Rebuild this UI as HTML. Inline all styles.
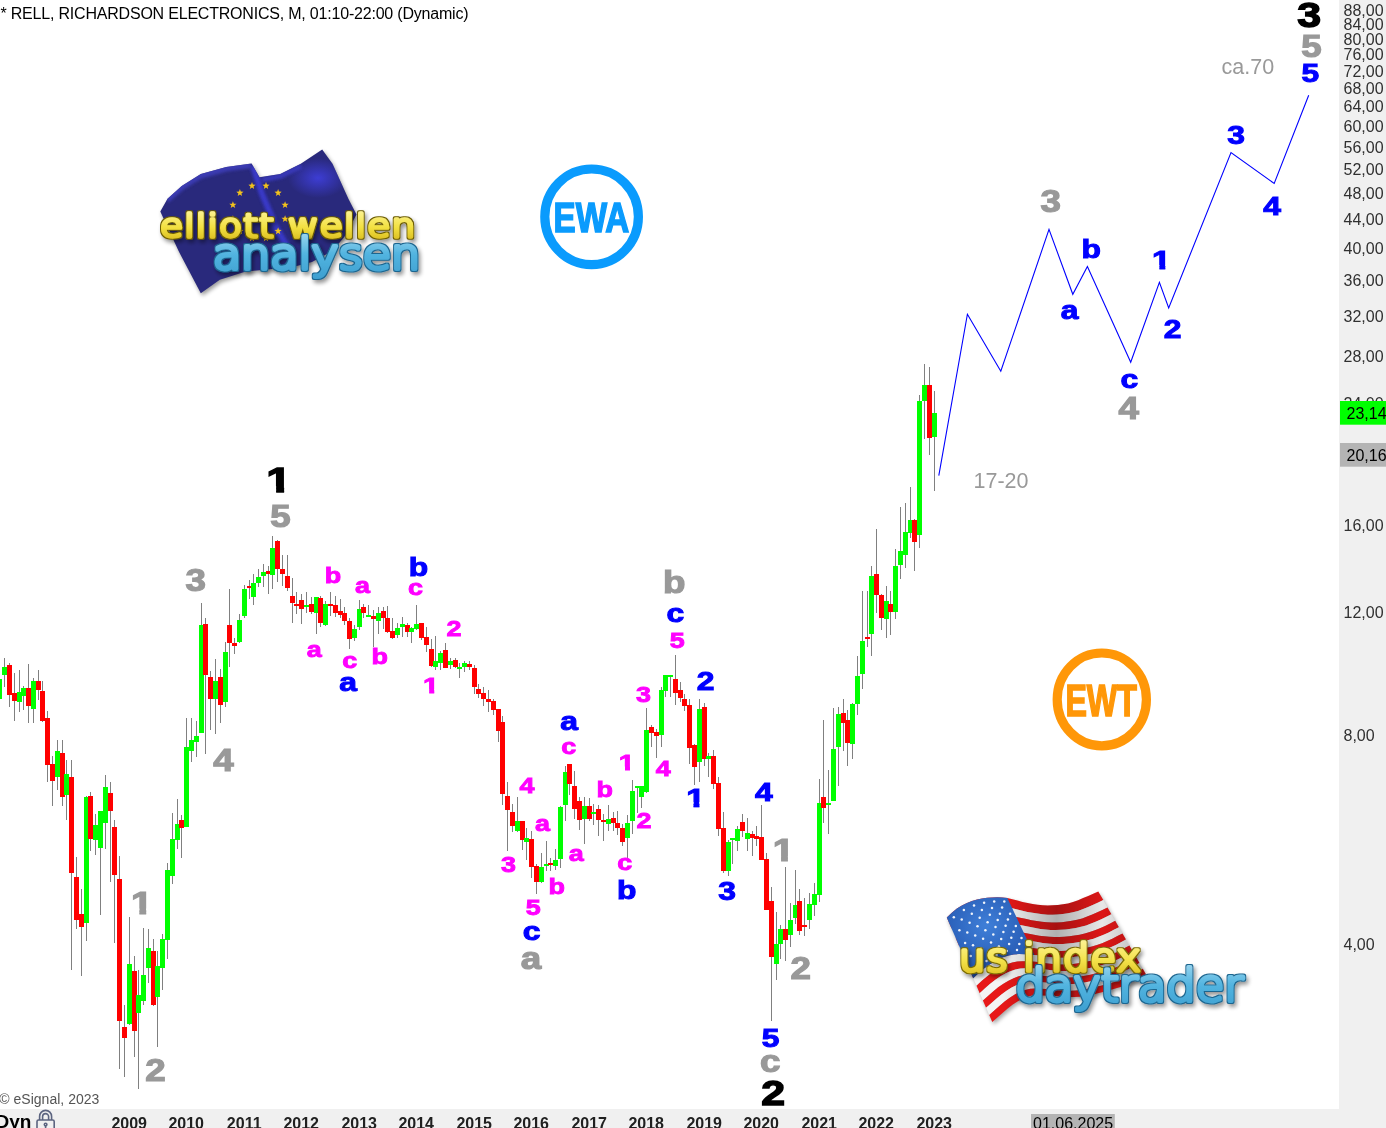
<!DOCTYPE html>
<html lang="de"><head><meta charset="utf-8"><title>RELL, RICHARDSON ELECTRONICS</title>
<style>
html,body{margin:0;padding:0;background:#fff}
body{width:1386px;height:1128px;overflow:hidden;position:relative}
svg{position:absolute;left:0;top:0;display:block}
text{font-family:"Liberation Sans",sans-serif}
.ax{font-size:16px;fill:#303030}
.yr{font-size:16px;font-weight:bold;fill:#202020;text-anchor:middle}
.wl{font-weight:bold;text-anchor:middle;stroke-linejoin:miter}
.nt{font-size:21.5px;fill:#999999}
text.lg{font-family:"DejaVu Sans","Liberation Sans",sans-serif;font-weight:200}
</style></head>
<body>
<svg width="1386" height="1128" viewBox="0 0 1386 1128">
<rect x="0" y="0" width="1386" height="1128" fill="#ffffff"/>
<rect x="1339" y="0" width="47" height="1128" fill="#f0f0f0"/>
<rect x="0" y="1109" width="1386" height="19" fill="#f0f0f0"/>
<g id="eulogo">
<defs><linearGradient id="euY" x1="0" y1="0" x2="0" y2="1"><stop offset="0" stop-color="#fff6a0"/><stop offset="0.55" stop-color="#f2e040"/><stop offset="1" stop-color="#d4b418"/></linearGradient><linearGradient id="euB" x1="0" y1="0" x2="0" y2="1"><stop offset="0" stop-color="#a8dcf2"/><stop offset="0.5" stop-color="#52b4e0"/><stop offset="1" stop-color="#3d9fd0"/></linearGradient><radialGradient id="euHi" cx="0.5" cy="0.5" r="0.5"><stop offset="0" stop-color="#3e3ed8" stop-opacity="0.95"/><stop offset="1" stop-color="#3e3ed8" stop-opacity="0"/></radialGradient><filter id="euBlur" x="-20%" y="-20%" width="140%" height="140%"><feGaussianBlur stdDeviation="2.2"/></filter><filter id="euBlur2" x="-20%" y="-20%" width="140%" height="140%"><feGaussianBlur stdDeviation="1.6"/></filter><clipPath id="euClip"><path id="euFlagP" d="M160.3 211.4 L167.5 198.7 L181.7 186 L200.8 174.1 L226.2 167 L251.6 163.5 L259.5 177.3 L280.2 174.1 L300.8 163.8 L322.2 149.5 L332.5 163.8 L348.4 198.7 L356.5 214.6 L345 236 L332.5 251 L312 262 L292.9 267 L262 270 L245 271.7 L219.8 279.7 L200.8 293.2 L178.6 251.1 Z"/></clipPath></defs>
<path d="M160.3 211.4 L167.5 198.7 L181.7 186 L200.8 174.1 L226.2 167 L251.6 163.5 L259.5 177.3 L280.2 174.1 L300.8 163.8 L322.2 149.5 L332.5 163.8 L348.4 198.7 L356.5 214.6 L345 236 L332.5 251 L312 262 L292.9 267 L262 270 L245 271.7 L219.8 279.7 L200.8 293.2 L178.6 251.1 Z" fill="#000" opacity="0.4" filter="url(#euBlur)" transform="translate(1.5,2.5)"/>
<path d="M160.3 211.4 L167.5 198.7 L181.7 186 L200.8 174.1 L226.2 167 L251.6 163.5 L259.5 177.3 L280.2 174.1 L300.8 163.8 L322.2 149.5 L332.5 163.8 L348.4 198.7 L356.5 214.6 L345 236 L332.5 251 L312 262 L292.9 267 L262 270 L245 271.7 L219.8 279.7 L200.8 293.2 L178.6 251.1 Z" fill="#29297c"/>
<g clip-path="url(#euClip)">
<ellipse cx="318" cy="178" rx="30" ry="20" fill="url(#euHi)"/>
<path d="M167 200 L182 187 L201 175.5 L226 168.5 L251 165" fill="none" stroke="#4040c0" stroke-width="6" opacity="0.8" filter="url(#euBlur2)"/>
<path d="M253 166 L262 194 L277 229 L287 246" fill="none" stroke="#3a3ad0" stroke-width="6" opacity="0.9" filter="url(#euBlur2)"/>
<path d="M262 180 L281 176 L301 166" fill="none" stroke="#3c3cc8" stroke-width="5" opacity="0.8" filter="url(#euBlur2)"/>
</g>
<g fill="#f2c21c"><polygon points="266.0,182.1 266.9,184.6 269.6,184.7 267.5,186.4 268.2,189.0 266.0,187.5 263.8,189.0 264.5,186.4 262.4,184.7 265.1,184.6"/><polygon points="278.1,189.1 279.0,191.6 281.7,191.7 279.6,193.4 280.3,196.0 278.1,194.5 275.9,196.0 276.6,193.4 274.5,191.7 277.2,191.6"/><polygon points="285.1,201.2 286.0,203.7 288.7,203.8 286.6,205.5 287.3,208.1 285.1,206.6 282.8,208.1 283.6,205.5 281.5,203.8 284.1,203.7"/><polygon points="285.1,215.2 286.0,217.7 288.7,217.8 286.6,219.5 287.3,222.1 285.1,220.6 282.8,222.1 283.6,219.5 281.5,217.8 284.1,217.7"/><polygon points="278.1,227.3 279.0,229.8 281.7,229.9 279.6,231.6 280.3,234.2 278.1,232.7 275.9,234.2 276.6,231.6 274.5,229.9 277.2,229.8"/><polygon points="266.0,234.3 266.9,236.8 269.6,236.9 267.5,238.6 268.2,241.2 266.0,239.7 263.8,241.2 264.5,238.6 262.4,236.9 265.1,236.8"/><polygon points="252.0,234.3 252.9,236.8 255.6,236.9 253.5,238.6 254.2,241.2 252.0,239.7 249.8,241.2 250.5,238.6 248.4,236.9 251.1,236.8"/><polygon points="239.9,227.3 240.8,229.8 243.5,229.9 241.4,231.6 242.1,234.2 239.9,232.7 237.7,234.2 238.4,231.6 236.3,229.9 239.0,229.8"/><polygon points="232.9,215.2 233.9,217.7 236.5,217.8 234.4,219.5 235.2,222.1 232.9,220.6 230.7,222.1 231.4,219.5 229.3,217.8 232.0,217.7"/><polygon points="232.9,201.2 233.9,203.7 236.5,203.8 234.4,205.5 235.2,208.1 232.9,206.6 230.7,208.1 231.4,205.5 229.3,203.8 232.0,203.7"/><polygon points="239.9,189.1 240.8,191.6 243.5,191.7 241.4,193.4 242.1,196.0 239.9,194.5 237.7,196.0 238.4,193.4 236.3,191.7 239.0,191.6"/><polygon points="252.0,182.1 252.9,184.6 255.6,184.7 253.5,186.4 254.2,189.0 252.0,187.5 249.8,189.0 250.5,186.4 248.4,184.7 251.1,184.6"/></g>
<defs><filter id="lgFeuY" x="-10%" y="-40%" width="120%" height="190%"><feMorphology in="SourceAlpha" operator="dilate" radius="1.05" result="d"/><feFlood flood-color="#6e5e05"/><feComposite in2="d" operator="in" result="ol"/><feGaussianBlur in="d" stdDeviation="2"/><feOffset dx="1.5" dy="2.5"/><feComponentTransfer result="sh"><feFuncA type="linear" slope="0.42"/></feComponentTransfer><feMerge><feMergeNode in="sh"/><feMergeNode in="ol"/><feMergeNode in="SourceGraphic"/></feMerge></filter></defs><text class="lg" x="160" y="236.8" font-size="31.5" letter-spacing="1" textLength="256.4" lengthAdjust="spacingAndGlyphs" stroke-linejoin="round" stroke-linecap="round" fill="url(#euY)" stroke="url(#euY)" stroke-width="3.3" filter="url(#lgFeuY)">elliott wellen</text>
<defs><filter id="lgFeuB" x="-10%" y="-40%" width="120%" height="190%"><feMorphology in="SourceAlpha" operator="dilate" radius="1.10" result="d"/><feFlood flood-color="#1c6690"/><feComposite in2="d" operator="in" result="ol"/><feGaussianBlur in="d" stdDeviation="2"/><feOffset dx="1.5" dy="2.5"/><feComponentTransfer result="sh"><feFuncA type="linear" slope="0.42"/></feComponentTransfer><feMerge><feMergeNode in="sh"/><feMergeNode in="ol"/><feMergeNode in="SourceGraphic"/></feMerge></filter></defs><text class="lg" x="212.9" y="269" font-size="43" letter-spacing="0" textLength="207.3" lengthAdjust="spacingAndGlyphs" stroke-linejoin="round" stroke-linecap="round" fill="url(#euB)" stroke="url(#euB)" stroke-width="4.0" filter="url(#lgFeuB)">analysen</text>
</g>
<g id="ewa"><ellipse cx="591.6" cy="216.8" rx="46.8" ry="47.8" fill="none" stroke="#0a9bfd" stroke-width="9.2"/><text x="553.6" y="232.3" font-size="43" font-weight="bold" fill="#0a9bfd" stroke="#0a9bfd" stroke-width="1.6" textLength="75.6" lengthAdjust="spacingAndGlyphs">EWA</text></g>
<g id="ewt"><ellipse cx="1101.8" cy="699.4" rx="44.6" ry="46.4" fill="none" stroke="#ff9708" stroke-width="9.2"/><text x="1065.4" y="715.5" font-size="43.8" font-weight="bold" fill="#ff9708" stroke="#ff9708" stroke-width="1.6" textLength="71.5" lengthAdjust="spacingAndGlyphs">EWT</text></g>
<g id="uslogo">
<defs><linearGradient id="usSh" x1="0" y1="0" x2="1" y2="0"><stop offset="0" stop-color="#000" stop-opacity="0"/><stop offset="0.28" stop-color="#000" stop-opacity="0"/><stop offset="0.55" stop-color="#000" stop-opacity="0.28"/><stop offset="0.78" stop-color="#000" stop-opacity="0.05"/><stop offset="1" stop-color="#000" stop-opacity="0.25"/></linearGradient><linearGradient id="usY" x1="0" y1="0" x2="0" y2="1"><stop offset="0" stop-color="#fff6a0"/><stop offset="0.55" stop-color="#f4e24a"/><stop offset="1" stop-color="#d9b91a"/></linearGradient><linearGradient id="usB" x1="0" y1="0" x2="0" y2="1"><stop offset="0" stop-color="#a8dcf2"/><stop offset="0.5" stop-color="#52b4e0"/><stop offset="1" stop-color="#3d9fd0"/></linearGradient><radialGradient id="usC" cx="0.45" cy="0.35" r="0.7"><stop offset="0" stop-color="#3f7fd8"/><stop offset="1" stop-color="#1f4fa8"/></radialGradient><filter id="usBlur" x="-20%" y="-20%" width="140%" height="140%"><feGaussianBlur stdDeviation="2.2"/></filter></defs>
<polygon points="946.8,917.6 951.8,912.8 956.9,908.6 961.9,905.6 967.0,903.1 972.0,901.1 977.1,899.6 982.1,898.5 987.2,897.8 992.2,897.4 997.3,897.2 1002.3,897.4 1007.4,898.0 1012.4,899.2 1017.5,900.6 1022.5,901.9 1027.6,903.0 1032.6,903.9 1037.7,904.8 1042.8,905.3 1047.8,905.5 1052.8,905.3 1057.9,904.9 1063.0,904.2 1068.0,903.4 1073.0,902.1 1078.1,900.2 1083.1,898.1 1088.2,896.0 1093.2,893.7 1098.3,891.4 1103.1,899.7 1107.8,908.0 1112.6,916.3 1117.4,924.6 1122.2,932.9 1126.9,941.2 1131.7,949.5 1136.5,957.8 1141.2,966.1 1146.0,974.4 1140.9,977.4 1135.8,980.4 1130.6,982.9 1125.5,985.1 1120.4,986.9 1115.3,988.6 1110.1,990.1 1105.0,991.4 1099.9,992.7 1094.8,993.9 1089.6,995.0 1084.5,996.0 1079.4,996.7 1074.3,997.1 1069.2,997.1 1064.0,996.9 1058.9,996.5 1053.8,996.1 1048.7,995.7 1043.5,995.5 1038.4,995.2 1033.3,995.3 1028.2,996.6 1023.0,998.6 1017.9,1001.3 1012.8,1004.6 1007.7,1008.6 1002.5,1013.0 997.4,1017.5 992.3,1022.1 987.7,1011.6 983.2,1001.2 978.6,990.8 974.1,980.3 969.5,969.9 965.0,959.4 960.4,948.9 955.9,938.5 951.4,928.1" fill="#000" opacity="0.35" filter="url(#usBlur)" transform="translate(1.5,2.5)"/>
<polygon points="946.8,917.6 951.8,912.8 956.9,908.6 961.9,905.6 967.0,903.1 972.0,901.1 977.1,899.6 982.1,898.5 987.2,897.8 992.2,897.4 997.3,897.2 1002.3,897.4 1007.4,898.0 1012.4,899.2 1017.5,900.6 1022.5,901.9 1027.6,903.0 1032.6,903.9 1037.7,904.8 1042.8,905.3 1047.8,905.5 1052.8,905.3 1057.9,904.9 1063.0,904.2 1068.0,903.4 1073.0,902.1 1078.1,900.2 1083.1,898.1 1088.2,896.0 1093.2,893.7 1098.3,891.4 1103.3,900.1 1098.2,902.5 1093.2,904.8 1088.1,907.0 1083.1,909.1 1078.0,910.9 1072.9,912.3 1067.9,913.2 1062.8,914.0 1057.8,914.5 1052.7,914.8 1047.7,914.7 1042.6,914.3 1037.5,913.6 1032.5,912.8 1027.4,911.9 1022.4,910.7 1017.3,909.4 1012.3,908.3 1007.2,907.7 1002.1,907.5 997.1,907.6 992.0,908.0 987.0,908.7 981.9,909.9 976.8,911.6 971.8,913.8 966.7,916.3 961.7,919.5 956.6,923.7 951.6,928.5" fill="#e81818"/>
<polygon points="951.6,928.5 956.6,923.7 961.7,919.5 966.7,916.3 971.8,913.8 976.8,911.6 981.9,909.9 987.0,908.7 992.0,908.0 997.1,907.6 1002.1,907.5 1007.2,907.7 1012.3,908.3 1017.3,909.4 1022.4,910.7 1027.4,911.9 1032.5,912.8 1037.5,913.6 1042.6,914.3 1047.7,914.7 1052.7,914.8 1057.8,914.5 1062.8,914.0 1067.9,913.2 1072.9,912.3 1078.0,910.9 1083.1,909.1 1088.1,907.0 1093.2,904.8 1098.2,902.5 1103.3,900.1 1107.5,907.4 1102.4,909.9 1097.4,912.2 1092.3,914.4 1087.2,916.6 1082.2,918.4 1077.1,919.8 1072.0,920.8 1067.0,921.6 1061.9,922.2 1056.8,922.5 1051.8,922.6 1046.7,922.3 1041.7,921.8 1036.6,921.1 1031.5,920.3 1026.5,919.1 1021.4,917.9 1016.3,916.9 1011.3,916.3 1006.2,916.1 1001.1,916.2 996.1,916.6 991.0,917.4 985.9,918.6 980.9,920.4 975.8,922.7 970.8,925.4 965.7,928.7 960.6,932.9 955.6,937.7" fill="#f4f4f4"/>
<polygon points="955.6,937.7 960.6,932.9 965.7,928.7 970.8,925.4 975.8,922.7 980.9,920.4 985.9,918.6 991.0,917.4 996.1,916.6 1001.1,916.2 1006.2,916.1 1011.3,916.3 1016.3,916.9 1021.4,917.9 1026.5,919.1 1031.5,920.3 1036.6,921.1 1041.7,921.8 1046.7,922.3 1051.8,922.6 1056.8,922.5 1061.9,922.2 1067.0,921.6 1072.0,920.8 1077.1,919.8 1082.2,918.4 1087.2,916.6 1092.3,914.4 1097.4,912.2 1102.4,909.9 1107.5,907.4 1111.4,914.2 1106.4,916.8 1101.3,919.2 1096.2,921.4 1091.1,923.6 1086.1,925.4 1081.0,926.8 1075.9,927.9 1070.9,928.7 1065.8,929.4 1060.7,929.8 1055.7,930.0 1050.6,929.9 1045.5,929.5 1040.4,928.9 1035.4,928.1 1030.3,927.1 1025.2,926.0 1020.2,925.0 1015.1,924.4 1010.0,924.2 1005.0,924.3 999.9,924.6 994.8,925.5 989.7,926.8 984.7,928.7 979.6,931.1 974.5,933.9 969.5,937.3 964.4,941.6 959.3,946.4" fill="#e81818"/>
<polygon points="959.3,946.4 964.4,941.6 969.5,937.3 974.5,933.9 979.6,931.1 984.7,928.7 989.7,926.8 994.8,925.5 999.9,924.6 1005.0,924.3 1010.0,924.2 1015.1,924.4 1020.2,925.0 1025.2,926.0 1030.3,927.1 1035.4,928.1 1040.4,928.9 1045.5,929.5 1050.6,929.9 1055.7,930.0 1060.7,929.8 1065.8,929.4 1070.9,928.7 1075.9,927.9 1081.0,926.8 1086.1,925.4 1091.1,923.6 1096.2,921.4 1101.3,919.2 1106.4,916.8 1111.4,914.2 1115.2,920.8 1110.1,923.4 1105.1,925.9 1100.0,928.2 1094.9,930.3 1089.8,932.1 1084.8,933.6 1079.7,934.7 1074.6,935.6 1069.5,936.3 1064.4,936.8 1059.4,937.1 1054.3,937.1 1049.2,936.8 1044.1,936.3 1039.1,935.7 1034.0,934.7 1028.9,933.7 1023.8,932.8 1018.8,932.2 1013.7,932.0 1008.6,932.0 1003.5,932.4 998.5,933.2 993.4,934.7 988.3,936.6 983.2,939.1 978.2,942.1 973.1,945.6 968.0,949.9 962.9,954.6" fill="#f4f4f4"/>
<polygon points="962.9,954.6 968.0,949.9 973.1,945.6 978.2,942.1 983.2,939.1 988.3,936.6 993.4,934.7 998.5,933.2 1003.5,932.4 1008.6,932.0 1013.7,932.0 1018.8,932.2 1023.8,932.8 1028.9,933.7 1034.0,934.7 1039.1,935.7 1044.1,936.3 1049.2,936.8 1054.3,937.1 1059.4,937.1 1064.4,936.8 1069.5,936.3 1074.6,935.6 1079.7,934.7 1084.8,933.6 1089.8,932.1 1094.9,930.3 1100.0,928.2 1105.1,925.9 1110.1,923.4 1115.2,920.8 1118.9,927.2 1113.8,929.8 1108.7,932.4 1103.6,934.7 1098.5,936.8 1093.5,938.7 1088.4,940.1 1083.3,941.3 1078.2,942.2 1073.1,943.0 1068.1,943.6 1063.0,944.0 1057.9,944.1 1052.8,943.9 1047.7,943.6 1042.7,943.0 1037.6,942.1 1032.5,941.2 1027.4,940.3 1022.3,939.8 1017.2,939.6 1012.2,939.6 1007.1,939.9 1002.0,940.8 996.9,942.3 991.8,944.4 986.8,946.9 981.7,950.0 976.6,953.6 971.5,958.0 966.4,962.7" fill="#e81818"/>
<polygon points="966.4,962.7 971.5,958.0 976.6,953.6 981.7,950.0 986.8,946.9 991.8,944.4 996.9,942.3 1002.0,940.8 1007.1,939.9 1012.2,939.6 1017.2,939.6 1022.3,939.8 1027.4,940.3 1032.5,941.2 1037.6,942.1 1042.7,943.0 1047.7,943.6 1052.8,943.9 1057.9,944.1 1063.0,944.0 1068.1,943.6 1073.1,943.0 1078.2,942.2 1083.3,941.3 1088.4,940.1 1093.5,938.7 1098.5,936.8 1103.6,934.7 1108.7,932.4 1113.8,929.8 1118.9,927.2 1122.5,933.4 1117.4,936.1 1112.3,938.7 1107.2,941.1 1102.1,943.2 1097.0,945.0 1091.9,946.5 1086.8,947.7 1081.8,948.7 1076.7,949.6 1071.6,950.3 1066.5,950.8 1061.4,951.0 1056.3,950.9 1051.2,950.6 1046.1,950.1 1041.1,949.4 1036.0,948.5 1030.9,947.7 1025.8,947.2 1020.7,947.0 1015.6,946.9 1010.5,947.2 1005.5,948.2 1000.4,949.7 995.3,951.9 990.2,954.5 985.1,957.7 980.0,961.4 974.9,965.8 969.8,970.5" fill="#f4f4f4"/>
<polygon points="969.8,970.5 974.9,965.8 980.0,961.4 985.1,957.7 990.2,954.5 995.3,951.9 1000.4,949.7 1005.5,948.2 1010.5,947.2 1015.6,946.9 1020.7,947.0 1025.8,947.2 1030.9,947.7 1036.0,948.5 1041.1,949.4 1046.1,950.1 1051.2,950.6 1056.3,950.9 1061.4,951.0 1066.5,950.8 1071.6,950.3 1076.7,949.6 1081.8,948.7 1086.8,947.7 1091.9,946.5 1097.0,945.0 1102.1,943.2 1107.2,941.1 1112.3,938.7 1117.4,936.1 1122.5,933.4 1126.0,939.5 1120.9,942.3 1115.8,944.9 1110.7,947.3 1105.6,949.4 1100.5,951.3 1095.4,952.8 1090.3,954.0 1085.2,955.1 1080.1,956.0 1075.0,956.8 1069.9,957.4 1064.9,957.7 1059.8,957.7 1054.7,957.6 1049.6,957.1 1044.5,956.5 1039.4,955.6 1034.3,954.9 1029.2,954.4 1024.1,954.2 1019.0,954.1 1013.9,954.4 1008.8,955.4 1003.7,957.0 998.7,959.3 993.6,962.0 988.5,965.3 983.4,969.1 978.3,973.5 973.2,978.2" fill="#e81818"/>
<polygon points="973.2,978.2 978.3,973.5 983.4,969.1 988.5,965.3 993.6,962.0 998.7,959.3 1003.7,957.0 1008.8,955.4 1013.9,954.4 1019.0,954.1 1024.1,954.2 1029.2,954.4 1034.3,954.9 1039.4,955.6 1044.5,956.5 1049.6,957.1 1054.7,957.6 1059.8,957.7 1064.9,957.7 1069.9,957.4 1075.0,956.8 1080.1,956.0 1085.2,955.1 1090.3,954.0 1095.4,952.8 1100.5,951.3 1105.6,949.4 1110.7,947.3 1115.8,944.9 1120.9,942.3 1126.0,939.5 1129.4,945.5 1124.3,948.3 1119.2,951.0 1114.1,953.4 1109.0,955.6 1103.9,957.4 1098.8,959.0 1093.7,960.2 1088.6,961.3 1083.5,962.3 1078.4,963.2 1073.3,963.9 1068.2,964.3 1063.1,964.4 1058.0,964.4 1052.9,964.0 1047.8,963.4 1042.8,962.7 1037.7,962.0 1032.6,961.5 1027.5,961.3 1022.4,961.2 1017.3,961.4 1012.2,962.5 1007.1,964.2 1002.0,966.5 996.9,969.3 991.8,972.8 986.7,976.7 981.6,981.1 976.5,985.8" fill="#f4f4f4"/>
<polygon points="976.5,985.8 981.6,981.1 986.7,976.7 991.8,972.8 996.9,969.3 1002.0,966.5 1007.1,964.2 1012.2,962.5 1017.3,961.4 1022.4,961.2 1027.5,961.3 1032.6,961.5 1037.7,962.0 1042.8,962.7 1047.8,963.4 1052.9,964.0 1058.0,964.4 1063.1,964.4 1068.2,964.3 1073.3,963.9 1078.4,963.2 1083.5,962.3 1088.6,961.3 1093.7,960.2 1098.8,959.0 1103.9,957.4 1109.0,955.6 1114.1,953.4 1119.2,951.0 1124.3,948.3 1129.4,945.5 1132.8,951.5 1127.7,954.3 1122.6,957.0 1117.5,959.5 1112.4,961.6 1107.3,963.5 1102.2,965.0 1097.1,966.4 1092.0,967.5 1086.9,968.6 1081.8,969.5 1076.7,970.2 1071.6,970.8 1066.5,971.1 1061.4,971.1 1056.3,970.8 1051.2,970.3 1046.1,969.6 1041.0,969.0 1035.9,968.5 1030.8,968.3 1025.6,968.2 1020.5,968.4 1015.4,969.4 1010.3,971.2 1005.2,973.6 1000.1,976.6 995.0,980.1 989.9,984.1 984.8,988.6 979.7,993.2" fill="#e81818"/>
<polygon points="979.7,993.2 984.8,988.6 989.9,984.1 995.0,980.1 1000.1,976.6 1005.2,973.6 1010.3,971.2 1015.4,969.4 1020.5,968.4 1025.6,968.2 1030.8,968.3 1035.9,968.5 1041.0,969.0 1046.1,969.6 1051.2,970.3 1056.3,970.8 1061.4,971.1 1066.5,971.1 1071.6,970.8 1076.7,970.2 1081.8,969.5 1086.9,968.6 1092.0,967.5 1097.1,966.4 1102.2,965.0 1107.3,963.5 1112.4,961.6 1117.5,959.5 1122.6,957.0 1127.7,954.3 1132.8,951.5 1136.2,957.3 1131.1,960.2 1125.9,963.0 1120.8,965.4 1115.7,967.6 1110.6,969.4 1105.5,971.0 1100.4,972.4 1095.3,973.6 1090.2,974.7 1085.1,975.7 1080.0,976.5 1074.9,977.2 1069.8,977.6 1064.7,977.7 1059.5,977.5 1054.4,977.1 1049.3,976.5 1044.2,975.9 1039.1,975.4 1034.0,975.2 1028.9,975.0 1023.8,975.2 1018.7,976.3 1013.6,978.2 1008.5,980.7 1003.4,983.7 998.2,987.3 993.1,991.4 988.0,995.9 982.9,1000.6" fill="#f4f4f4"/>
<polygon points="982.9,1000.6 988.0,995.9 993.1,991.4 998.2,987.3 1003.4,983.7 1008.5,980.7 1013.6,978.2 1018.7,976.3 1023.8,975.2 1028.9,975.0 1034.0,975.2 1039.1,975.4 1044.2,975.9 1049.3,976.5 1054.4,977.1 1059.5,977.5 1064.7,977.7 1069.8,977.6 1074.9,977.2 1080.0,976.5 1085.1,975.7 1090.2,974.7 1095.3,973.6 1100.4,972.4 1105.5,971.0 1110.6,969.4 1115.7,967.6 1120.8,965.4 1125.9,963.0 1131.1,960.2 1136.2,957.3 1139.5,963.1 1134.4,966.0 1129.3,968.8 1124.1,971.3 1119.0,973.5 1113.9,975.3 1108.8,976.9 1103.7,978.4 1098.6,979.6 1093.5,980.8 1088.3,981.8 1083.2,982.8 1078.1,983.5 1073.0,984.0 1067.9,984.2 1062.8,984.1 1057.7,983.7 1052.6,983.2 1047.4,982.7 1042.3,982.3 1037.2,982.1 1032.1,981.8 1027.0,982.0 1021.9,983.1 1016.8,985.1 1011.6,987.6 1006.5,990.8 1001.4,994.5 996.3,998.7 991.2,1003.2 986.1,1007.8" fill="#e81818"/>
<polygon points="986.1,1007.8 991.2,1003.2 996.3,998.7 1001.4,994.5 1006.5,990.8 1011.6,987.6 1016.8,985.1 1021.9,983.1 1027.0,982.0 1032.1,981.8 1037.2,982.1 1042.3,982.3 1047.4,982.7 1052.6,983.2 1057.7,983.7 1062.8,984.1 1067.9,984.2 1073.0,984.0 1078.1,983.5 1083.2,982.8 1088.3,981.8 1093.5,980.8 1098.6,979.6 1103.7,978.4 1108.8,976.9 1113.9,975.3 1119.0,973.5 1124.1,971.3 1129.3,968.8 1134.4,966.0 1139.5,963.1 1142.8,968.8 1137.6,971.7 1132.5,974.6 1127.4,977.2 1122.3,979.3 1117.2,981.2 1112.0,982.8 1106.9,984.3 1101.8,985.5 1096.7,986.8 1091.6,987.9 1086.5,988.9 1081.3,989.8 1076.2,990.4 1071.1,990.7 1066.0,990.7 1060.9,990.4 1055.7,989.9 1050.6,989.4 1045.5,989.0 1040.4,988.8 1035.3,988.6 1030.2,988.7 1025.0,989.9 1019.9,991.9 1014.8,994.5 1009.7,997.7 1004.6,1001.6 999.4,1005.9 994.3,1010.4 989.2,1015.0" fill="#f4f4f4"/>
<polygon points="989.2,1015.0 994.3,1010.4 999.4,1005.9 1004.6,1001.6 1009.7,997.7 1014.8,994.5 1019.9,991.9 1025.0,989.9 1030.2,988.7 1035.3,988.6 1040.4,988.8 1045.5,989.0 1050.6,989.4 1055.7,989.9 1060.9,990.4 1066.0,990.7 1071.1,990.7 1076.2,990.4 1081.3,989.8 1086.5,988.9 1091.6,987.9 1096.7,986.8 1101.8,985.5 1106.9,984.3 1112.0,982.8 1117.2,981.2 1122.3,979.3 1127.4,977.2 1132.5,974.6 1137.6,971.7 1142.8,968.8 1146.0,974.4 1140.9,977.4 1135.8,980.4 1130.6,982.9 1125.5,985.1 1120.4,986.9 1115.3,988.6 1110.1,990.1 1105.0,991.4 1099.9,992.7 1094.8,993.9 1089.6,995.0 1084.5,996.0 1079.4,996.7 1074.3,997.1 1069.2,997.1 1064.0,996.9 1058.9,996.5 1053.8,996.1 1048.7,995.7 1043.5,995.5 1038.4,995.2 1033.3,995.3 1028.2,996.6 1023.0,998.6 1017.9,1001.3 1012.8,1004.6 1007.7,1008.6 1002.5,1013.0 997.4,1017.5 992.3,1022.1" fill="#e81818"/>
<polygon points="946.8,917.6 951.8,912.8 956.9,908.6 961.9,905.6 967.0,903.1 972.0,901.1 977.1,899.6 982.1,898.5 987.2,897.8 992.2,897.4 997.3,897.2 1002.3,897.4 1007.4,898.0 1012.4,899.2 1017.5,900.6 1022.5,901.9 1027.6,903.0 1032.6,903.9 1037.7,904.8 1042.8,905.3 1047.8,905.5 1052.8,905.3 1057.9,904.9 1063.0,904.2 1068.0,903.4 1073.0,902.1 1078.1,900.2 1083.1,898.1 1088.2,896.0 1093.2,893.7 1098.3,891.4 1103.1,899.7 1107.8,908.0 1112.6,916.3 1117.4,924.6 1122.2,932.9 1126.9,941.2 1131.7,949.5 1136.5,957.8 1141.2,966.1 1146.0,974.4 1140.9,977.4 1135.8,980.4 1130.6,982.9 1125.5,985.1 1120.4,986.9 1115.3,988.6 1110.1,990.1 1105.0,991.4 1099.9,992.7 1094.8,993.9 1089.6,995.0 1084.5,996.0 1079.4,996.7 1074.3,997.1 1069.2,997.1 1064.0,996.9 1058.9,996.5 1053.8,996.1 1048.7,995.7 1043.5,995.5 1038.4,995.2 1033.3,995.3 1028.2,996.6 1023.0,998.6 1017.9,1001.3 1012.8,1004.6 1007.7,1008.6 1002.5,1013.0 997.4,1017.5 992.3,1022.1 987.7,1011.6 983.2,1001.2 978.6,990.8 974.1,980.3 969.5,969.9 965.0,959.4 960.4,948.9 955.9,938.5 951.4,928.1" fill="url(#usSh)"/>
<polygon points="946.8,917.6 951.8,912.8 956.9,908.6 961.9,905.6 967.0,903.1 972.0,901.1 977.1,899.6 982.1,898.5 987.2,897.8 992.2,897.4 997.3,897.2 1002.3,897.4 1007.4,898.0 1009.6,902.8 1011.9,907.5 1014.1,912.2 1016.4,917.0 1018.6,921.7 1020.8,926.5 1023.1,931.2 1025.3,935.9 1027.6,940.7 1029.8,945.4 1032.1,950.2 1034.3,954.9 1029.2,954.4 1024.1,954.2 1019.0,954.1 1013.9,954.4 1008.8,955.4 1003.7,957.0 998.7,959.3 993.6,962.0 988.5,965.3 983.4,969.1 978.3,973.5 973.2,978.2 971.0,973.2 968.8,968.1 966.6,963.1 964.4,958.0 962.2,953.0 960.0,947.9 957.8,942.9 955.6,937.8 953.4,932.8 951.2,927.7 949.0,922.7" fill="url(#usC)"/>
<g fill="#ffffff" opacity="0.92"><circle cx="953.8" cy="917.3" r="1.25"/><circle cx="963.9" cy="910.0" r="1.25"/><circle cx="974.0" cy="905.5" r="1.25"/><circle cx="984.1" cy="902.7" r="1.25"/><circle cx="994.2" cy="901.6" r="1.25"/><circle cx="1004.3" cy="901.6" r="1.25"/><circle cx="961.7" cy="919.5" r="1.25"/><circle cx="971.8" cy="913.8" r="1.25"/><circle cx="981.9" cy="909.9" r="1.25"/><circle cx="992.0" cy="908.0" r="1.25"/><circle cx="1002.1" cy="907.5" r="1.25"/><circle cx="959.4" cy="930.2" r="1.25"/><circle cx="969.6" cy="922.7" r="1.25"/><circle cx="979.7" cy="917.8" r="1.25"/><circle cx="989.8" cy="914.8" r="1.25"/><circle cx="999.9" cy="913.7" r="1.25"/><circle cx="1010.1" cy="913.8" r="1.25"/><circle cx="967.3" cy="932.4" r="1.25"/><circle cx="977.5" cy="926.3" r="1.25"/><circle cx="987.6" cy="922.2" r="1.25"/><circle cx="997.7" cy="920.1" r="1.25"/><circle cx="1007.9" cy="919.6" r="1.25"/><circle cx="965.1" cy="943.1" r="1.25"/><circle cx="975.2" cy="935.4" r="1.25"/><circle cx="985.4" cy="930.2" r="1.25"/><circle cx="995.5" cy="926.9" r="1.25"/><circle cx="1005.6" cy="925.7" r="1.25"/><circle cx="1015.8" cy="925.9" r="1.25"/><circle cx="973.0" cy="945.3" r="1.25"/><circle cx="983.1" cy="938.8" r="1.25"/><circle cx="993.3" cy="934.4" r="1.25"/><circle cx="1003.4" cy="932.1" r="1.25"/><circle cx="1013.6" cy="931.8" r="1.25"/><circle cx="970.7" cy="956.1" r="1.25"/><circle cx="980.9" cy="948.2" r="1.25"/><circle cx="991.0" cy="942.6" r="1.25"/><circle cx="1001.2" cy="939.0" r="1.25"/><circle cx="1011.3" cy="937.8" r="1.25"/><circle cx="1021.5" cy="938.0" r="1.25"/><circle cx="978.6" cy="958.2" r="1.25"/><circle cx="988.8" cy="951.4" r="1.25"/><circle cx="998.9" cy="946.6" r="1.25"/><circle cx="1009.1" cy="944.1" r="1.25"/><circle cx="1019.3" cy="943.9" r="1.25"/><circle cx="976.3" cy="969.0" r="1.25"/><circle cx="986.5" cy="960.9" r="1.25"/><circle cx="996.7" cy="954.9" r="1.25"/><circle cx="1006.8" cy="951.1" r="1.25"/><circle cx="1017.0" cy="949.9" r="1.25"/><circle cx="1027.2" cy="950.2" r="1.25"/></g>
<defs><filter id="lgFusY" x="-10%" y="-40%" width="120%" height="190%"><feMorphology in="SourceAlpha" operator="dilate" radius="1.10" result="d"/><feFlood flood-color="#7d6d06"/><feComposite in2="d" operator="in" result="ol"/><feGaussianBlur in="d" stdDeviation="2"/><feOffset dx="1.5" dy="2.5"/><feComponentTransfer result="sh"><feFuncA type="linear" slope="0.42"/></feComponentTransfer><feMerge><feMergeNode in="sh"/><feMergeNode in="ol"/><feMergeNode in="SourceGraphic"/></feMerge></filter></defs><text class="lg" x="959" y="970.8" font-size="37" letter-spacing="1" textLength="182.8" lengthAdjust="spacingAndGlyphs" stroke-linejoin="round" stroke-linecap="round" fill="url(#usY)" stroke="url(#usY)" stroke-width="3.6" filter="url(#lgFusY)">us index</text>
<defs><filter id="lgFusB" x="-10%" y="-40%" width="120%" height="190%"><feMorphology in="SourceAlpha" operator="dilate" radius="1.10" result="d"/><feFlood flood-color="#1c6690"/><feComposite in2="d" operator="in" result="ol"/><feGaussianBlur in="d" stdDeviation="2"/><feOffset dx="1.5" dy="2.5"/><feComponentTransfer result="sh"><feFuncA type="linear" slope="0.42"/></feComponentTransfer><feMerge><feMergeNode in="sh"/><feMergeNode in="ol"/><feMergeNode in="SourceGraphic"/></feMerge></filter></defs><text class="lg" x="1015.4" y="1000.6" font-size="45" letter-spacing="0" textLength="228" lengthAdjust="spacingAndGlyphs" stroke-linejoin="round" stroke-linecap="round" fill="url(#usB)" stroke="url(#usB)" stroke-width="3.8" filter="url(#lgFusB)">daytrader</text>
</g>
<g shape-rendering="crispEdges">
<rect x="-1" y="670" width="1" height="35" fill="#808080"/><rect x="-3" y="679" width="5" height="20" fill="#00ff00"/>
<rect x="4" y="658" width="1" height="29" fill="#808080"/><rect x="2" y="667" width="5" height="8" fill="#00ff00"/>
<rect x="9" y="663" width="1" height="44" fill="#808080"/><rect x="7" y="665" width="5" height="30" fill="#ff0000"/>
<rect x="14" y="673" width="1" height="48" fill="#808080"/><rect x="12" y="693" width="5" height="8" fill="#ff0000"/>
<rect x="19" y="670" width="1" height="42" fill="#808080"/><rect x="17" y="692" width="5" height="10" fill="#00ff00"/>
<rect x="23" y="686" width="1" height="24" fill="#808080"/><rect x="21" y="688" width="5" height="8" fill="#00ff00"/>
<rect x="28" y="664" width="1" height="59" fill="#808080"/><rect x="26" y="688" width="5" height="18" fill="#ff0000"/>
<rect x="33" y="678" width="1" height="45" fill="#808080"/><rect x="31" y="681" width="5" height="28" fill="#00ff00"/>
<rect x="38" y="670" width="1" height="30" fill="#808080"/><rect x="36" y="681" width="5" height="9" fill="#ff0000"/>
<rect x="42" y="681" width="1" height="41" fill="#808080"/><rect x="40" y="691" width="5" height="30" fill="#ff0000"/>
<rect x="47" y="711" width="1" height="71" fill="#808080"/><rect x="45" y="718" width="5" height="47" fill="#ff0000"/>
<rect x="52" y="756" width="1" height="50" fill="#808080"/><rect x="50" y="764" width="5" height="17" fill="#ff0000"/>
<rect x="57" y="740" width="1" height="50" fill="#808080"/><rect x="55" y="751" width="5" height="26" fill="#00ff00"/>
<rect x="62" y="740" width="1" height="66" fill="#808080"/><rect x="60" y="753" width="5" height="44" fill="#ff0000"/>
<rect x="66" y="760" width="1" height="60" fill="#808080"/><rect x="64" y="774" width="5" height="21" fill="#00ff00"/>
<rect x="71" y="760" width="1" height="210" fill="#808080"/><rect x="69" y="777" width="5" height="96" fill="#ff0000"/>
<rect x="76" y="857" width="1" height="72" fill="#808080"/><rect x="74" y="877" width="5" height="43" fill="#ff0000"/>
<rect x="81" y="889" width="1" height="87" fill="#808080"/><rect x="79" y="914" width="5" height="13" fill="#ff0000"/>
<rect x="86" y="796" width="1" height="145" fill="#808080"/><rect x="84" y="797" width="5" height="126" fill="#00ff00"/>
<rect x="90" y="792" width="1" height="59" fill="#808080"/><rect x="88" y="796" width="5" height="43" fill="#ff0000"/>
<rect x="95" y="814" width="1" height="41" fill="#808080"/><rect x="93" y="825" width="5" height="15" fill="#00ff00"/>
<rect x="100" y="811" width="1" height="104" fill="#808080"/><rect x="98" y="811" width="5" height="37" fill="#00ff00"/>
<rect x="105" y="775" width="1" height="74" fill="#808080"/><rect x="103" y="787" width="5" height="36" fill="#00ff00"/>
<rect x="110" y="782" width="1" height="100" fill="#808080"/><rect x="108" y="793" width="5" height="18" fill="#ff0000"/>
<rect x="114" y="820" width="1" height="123" fill="#808080"/><rect x="112" y="827" width="5" height="48" fill="#ff0000"/>
<rect x="119" y="856" width="1" height="213" fill="#808080"/><rect x="117" y="879" width="5" height="142" fill="#ff0000"/>
<rect x="124" y="1005" width="1" height="72" fill="#808080"/><rect x="122" y="1027" width="5" height="11" fill="#ff0000"/>
<rect x="129" y="917" width="1" height="108" fill="#808080"/><rect x="127" y="964" width="5" height="60" fill="#00ff00"/>
<rect x="134" y="956" width="1" height="101" fill="#808080"/><rect x="132" y="971" width="5" height="60" fill="#ff0000"/>
<rect x="138" y="970" width="1" height="119" fill="#808080"/><rect x="136" y="995" width="5" height="18" fill="#00ff00"/>
<rect x="143" y="928" width="1" height="77" fill="#808080"/><rect x="141" y="975" width="5" height="26" fill="#00ff00"/>
<rect x="148" y="929" width="1" height="54" fill="#808080"/><rect x="146" y="948" width="5" height="20" fill="#00ff00"/>
<rect x="153" y="939" width="1" height="67" fill="#808080"/><rect x="151" y="951" width="5" height="54" fill="#ff0000"/>
<rect x="157" y="951" width="1" height="96" fill="#808080"/><rect x="155" y="966" width="5" height="31" fill="#00ff00"/>
<rect x="162" y="934" width="1" height="56" fill="#808080"/><rect x="160" y="939" width="5" height="29" fill="#00ff00"/>
<rect x="167" y="863" width="1" height="96" fill="#808080"/><rect x="165" y="870" width="5" height="70" fill="#00ff00"/>
<rect x="172" y="813" width="1" height="71" fill="#808080"/><rect x="170" y="839" width="5" height="37" fill="#00ff00"/>
<rect x="177" y="799" width="1" height="50" fill="#808080"/><rect x="175" y="824" width="5" height="16" fill="#00ff00"/>
<rect x="181" y="815" width="1" height="43" fill="#808080"/><rect x="179" y="820" width="5" height="8" fill="#ff0000"/>
<rect x="186" y="718" width="1" height="109" fill="#808080"/><rect x="184" y="747" width="5" height="80" fill="#00ff00"/>
<rect x="191" y="718" width="1" height="44" fill="#808080"/><rect x="189" y="740" width="5" height="11" fill="#00ff00"/>
<rect x="196" y="721" width="1" height="36" fill="#808080"/><rect x="194" y="736" width="5" height="6" fill="#00ff00"/>
<rect x="201" y="603" width="1" height="130" fill="#808080"/><rect x="199" y="625" width="5" height="108" fill="#00ff00"/>
<rect x="205" y="618" width="1" height="136" fill="#808080"/><rect x="203" y="624" width="5" height="51" fill="#ff0000"/>
<rect x="210" y="671" width="1" height="59" fill="#808080"/><rect x="208" y="677" width="5" height="22" fill="#ff0000"/>
<rect x="215" y="659" width="1" height="75" fill="#808080"/><rect x="213" y="681" width="5" height="18" fill="#00ff00"/>
<rect x="220" y="669" width="1" height="54" fill="#808080"/><rect x="218" y="677" width="5" height="28" fill="#ff0000"/>
<rect x="225" y="642" width="1" height="65" fill="#808080"/><rect x="223" y="652" width="5" height="50" fill="#00ff00"/>
<rect x="229" y="589" width="1" height="78" fill="#808080"/><rect x="227" y="625" width="5" height="18" fill="#ff0000"/>
<rect x="234" y="638" width="1" height="16" fill="#808080"/><rect x="232" y="643" width="5" height="3" fill="#ff0000"/>
<rect x="239" y="614" width="1" height="29" fill="#808080"/><rect x="237" y="620" width="5" height="22" fill="#00ff00"/>
<rect x="244" y="585" width="1" height="33" fill="#808080"/><rect x="242" y="589" width="5" height="27" fill="#00ff00"/>
<rect x="249" y="580" width="1" height="19" fill="#808080"/><rect x="247" y="586" width="5" height="2" fill="#ff0000"/>
<rect x="253" y="574" width="1" height="31" fill="#808080"/><rect x="251" y="583" width="5" height="14" fill="#00ff00"/>
<rect x="258" y="569" width="1" height="18" fill="#808080"/><rect x="256" y="577" width="5" height="6" fill="#00ff00"/>
<rect x="263" y="564" width="1" height="23" fill="#808080"/><rect x="261" y="572" width="5" height="4" fill="#00ff00"/>
<rect x="268" y="566" width="1" height="28" fill="#808080"/><rect x="266" y="571" width="5" height="3" fill="#ff0000"/>
<rect x="272" y="536" width="1" height="53" fill="#808080"/><rect x="270" y="548" width="5" height="27" fill="#00ff00"/>
<rect x="277" y="540" width="1" height="42" fill="#808080"/><rect x="275" y="541" width="5" height="28" fill="#ff0000"/>
<rect x="282" y="555" width="1" height="31" fill="#808080"/><rect x="280" y="569" width="5" height="5" fill="#ff0000"/>
<rect x="287" y="555" width="1" height="36" fill="#808080"/><rect x="285" y="576" width="5" height="12" fill="#ff0000"/>
<rect x="292" y="578" width="1" height="45" fill="#808080"/><rect x="290" y="596" width="5" height="7" fill="#ff0000"/>
<rect x="296" y="592" width="1" height="22" fill="#808080"/><rect x="294" y="604" width="5" height="2" fill="#ff0000"/>
<rect x="301" y="594" width="1" height="30" fill="#808080"/><rect x="299" y="600" width="5" height="9" fill="#ff0000"/>
<rect x="306" y="592" width="1" height="21" fill="#808080"/><rect x="304" y="605" width="5" height="2" fill="#00ff00"/>
<rect x="311" y="597" width="1" height="17" fill="#808080"/><rect x="309" y="604" width="5" height="8" fill="#ff0000"/>
<rect x="316" y="597" width="1" height="37" fill="#808080"/><rect x="314" y="597" width="5" height="16" fill="#00ff00"/>
<rect x="320" y="596" width="1" height="31" fill="#808080"/><rect x="318" y="598" width="5" height="25" fill="#ff0000"/>
<rect x="325" y="601" width="1" height="25" fill="#808080"/><rect x="323" y="604" width="5" height="21" fill="#00ff00"/>
<rect x="330" y="592" width="1" height="24" fill="#808080"/><rect x="328" y="604" width="5" height="2" fill="#ff0000"/>
<rect x="335" y="596" width="1" height="21" fill="#808080"/><rect x="333" y="605" width="5" height="8" fill="#ff0000"/>
<rect x="340" y="599" width="1" height="19" fill="#808080"/><rect x="338" y="611" width="5" height="4" fill="#ff0000"/>
<rect x="344" y="607" width="1" height="18" fill="#808080"/><rect x="342" y="613" width="5" height="8" fill="#ff0000"/>
<rect x="349" y="618" width="1" height="31" fill="#808080"/><rect x="347" y="621" width="5" height="18" fill="#ff0000"/>
<rect x="354" y="625" width="1" height="16" fill="#808080"/><rect x="352" y="629" width="5" height="9" fill="#00ff00"/>
<rect x="359" y="600" width="1" height="30" fill="#808080"/><rect x="357" y="609" width="5" height="18" fill="#00ff00"/>
<rect x="363" y="604" width="1" height="14" fill="#808080"/><rect x="361" y="607" width="5" height="6" fill="#ff0000"/>
<rect x="368" y="605" width="1" height="12" fill="#808080"/><rect x="366" y="615" width="5" height="2" fill="#00ff00"/>
<rect x="373" y="610" width="1" height="37" fill="#808080"/><rect x="371" y="616" width="5" height="3" fill="#ff0000"/>
<rect x="378" y="607" width="1" height="27" fill="#808080"/><rect x="376" y="613" width="5" height="8" fill="#00ff00"/>
<rect x="383" y="607" width="1" height="22" fill="#808080"/><rect x="381" y="611" width="5" height="7" fill="#ff0000"/>
<rect x="387" y="606" width="1" height="27" fill="#808080"/><rect x="385" y="618" width="5" height="14" fill="#ff0000"/>
<rect x="392" y="618" width="1" height="21" fill="#808080"/><rect x="390" y="631" width="5" height="7" fill="#ff0000"/>
<rect x="397" y="623" width="1" height="15" fill="#808080"/><rect x="395" y="628" width="5" height="7" fill="#00ff00"/>
<rect x="402" y="617" width="1" height="20" fill="#808080"/><rect x="400" y="624" width="5" height="3" fill="#00ff00"/>
<rect x="407" y="623" width="1" height="14" fill="#808080"/><rect x="405" y="625" width="5" height="7" fill="#ff0000"/>
<rect x="411" y="627" width="1" height="16" fill="#808080"/><rect x="409" y="628" width="5" height="4" fill="#00ff00"/>
<rect x="416" y="605" width="1" height="25" fill="#808080"/><rect x="414" y="624" width="5" height="5" fill="#00ff00"/>
<rect x="421" y="623" width="1" height="17" fill="#808080"/><rect x="419" y="623" width="5" height="15" fill="#ff0000"/>
<rect x="426" y="627" width="1" height="25" fill="#808080"/><rect x="424" y="637" width="5" height="8" fill="#ff0000"/>
<rect x="431" y="639" width="1" height="28" fill="#808080"/><rect x="429" y="649" width="5" height="17" fill="#ff0000"/>
<rect x="435" y="636" width="1" height="34" fill="#808080"/><rect x="433" y="661" width="5" height="6" fill="#00ff00"/>
<rect x="440" y="651" width="1" height="19" fill="#808080"/><rect x="438" y="653" width="5" height="10" fill="#00ff00"/>
<rect x="445" y="643" width="1" height="25" fill="#808080"/><rect x="443" y="650" width="5" height="18" fill="#ff0000"/>
<rect x="450" y="658" width="1" height="11" fill="#808080"/><rect x="448" y="661" width="5" height="4" fill="#00ff00"/>
<rect x="455" y="658" width="1" height="10" fill="#808080"/><rect x="453" y="660" width="5" height="7" fill="#ff0000"/>
<rect x="459" y="663" width="1" height="15" fill="#808080"/><rect x="457" y="667" width="5" height="2" fill="#00ff00"/>
<rect x="464" y="661" width="1" height="11" fill="#808080"/><rect x="462" y="663" width="5" height="4" fill="#00ff00"/>
<rect x="469" y="661" width="1" height="9" fill="#808080"/><rect x="467" y="664" width="5" height="3" fill="#ff0000"/>
<rect x="474" y="665" width="1" height="29" fill="#808080"/><rect x="472" y="668" width="5" height="19" fill="#ff0000"/>
<rect x="478" y="684" width="1" height="14" fill="#808080"/><rect x="476" y="689" width="5" height="5" fill="#ff0000"/>
<rect x="483" y="687" width="1" height="19" fill="#808080"/><rect x="481" y="693" width="5" height="6" fill="#ff0000"/>
<rect x="488" y="690" width="1" height="22" fill="#808080"/><rect x="486" y="699" width="5" height="3" fill="#ff0000"/>
<rect x="493" y="699" width="1" height="16" fill="#808080"/><rect x="491" y="701" width="5" height="9" fill="#ff0000"/>
<rect x="498" y="709" width="1" height="33" fill="#808080"/><rect x="496" y="709" width="5" height="22" fill="#ff0000"/>
<rect x="502" y="716" width="1" height="89" fill="#808080"/><rect x="500" y="722" width="5" height="72" fill="#ff0000"/>
<rect x="507" y="782" width="1" height="69" fill="#808080"/><rect x="505" y="796" width="5" height="14" fill="#ff0000"/>
<rect x="512" y="804" width="1" height="28" fill="#808080"/><rect x="510" y="812" width="5" height="14" fill="#ff0000"/>
<rect x="517" y="797" width="1" height="35" fill="#808080"/><rect x="515" y="821" width="5" height="10" fill="#00ff00"/>
<rect x="522" y="821" width="1" height="29" fill="#808080"/><rect x="520" y="821" width="5" height="19" fill="#ff0000"/>
<rect x="526" y="828" width="1" height="32" fill="#808080"/><rect x="524" y="838" width="5" height="4" fill="#00ff00"/>
<rect x="531" y="831" width="1" height="47" fill="#808080"/><rect x="529" y="839" width="5" height="28" fill="#ff0000"/>
<rect x="536" y="864" width="1" height="30" fill="#808080"/><rect x="534" y="866" width="5" height="16" fill="#ff0000"/>
<rect x="541" y="853" width="1" height="30" fill="#808080"/><rect x="539" y="867" width="5" height="15" fill="#00ff00"/>
<rect x="546" y="841" width="1" height="30" fill="#808080"/><rect x="544" y="864" width="5" height="2" fill="#00ff00"/>
<rect x="550" y="858" width="1" height="13" fill="#808080"/><rect x="548" y="863" width="5" height="2" fill="#ff0000"/>
<rect x="555" y="849" width="1" height="21" fill="#808080"/><rect x="553" y="860" width="5" height="6" fill="#00ff00"/>
<rect x="560" y="806" width="1" height="62" fill="#808080"/><rect x="558" y="807" width="5" height="52" fill="#00ff00"/>
<rect x="565" y="766" width="1" height="55" fill="#808080"/><rect x="563" y="772" width="5" height="33" fill="#00ff00"/>
<rect x="569" y="764" width="1" height="31" fill="#808080"/><rect x="567" y="764" width="5" height="20" fill="#ff0000"/>
<rect x="574" y="771" width="1" height="48" fill="#808080"/><rect x="572" y="786" width="5" height="23" fill="#ff0000"/>
<rect x="579" y="797" width="1" height="33" fill="#808080"/><rect x="577" y="801" width="5" height="19" fill="#ff0000"/>
<rect x="584" y="797" width="1" height="47" fill="#808080"/><rect x="582" y="806" width="5" height="13" fill="#00ff00"/>
<rect x="589" y="798" width="1" height="23" fill="#808080"/><rect x="587" y="806" width="5" height="13" fill="#ff0000"/>
<rect x="593" y="804" width="1" height="21" fill="#808080"/><rect x="591" y="812" width="5" height="2" fill="#00ff00"/>
<rect x="598" y="805" width="1" height="31" fill="#808080"/><rect x="596" y="809" width="5" height="11" fill="#ff0000"/>
<rect x="603" y="814" width="1" height="27" fill="#808080"/><rect x="601" y="820" width="5" height="2" fill="#ff0000"/>
<rect x="608" y="805" width="1" height="26" fill="#808080"/><rect x="606" y="819" width="5" height="5" fill="#00ff00"/>
<rect x="613" y="812" width="1" height="19" fill="#808080"/><rect x="611" y="818" width="5" height="5" fill="#ff0000"/>
<rect x="617" y="811" width="1" height="24" fill="#808080"/><rect x="615" y="823" width="5" height="5" fill="#ff0000"/>
<rect x="622" y="824" width="1" height="22" fill="#808080"/><rect x="620" y="828" width="5" height="14" fill="#ff0000"/>
<rect x="627" y="815" width="1" height="44" fill="#808080"/><rect x="625" y="823" width="5" height="15" fill="#00ff00"/>
<rect x="632" y="780" width="1" height="54" fill="#808080"/><rect x="630" y="791" width="5" height="30" fill="#00ff00"/>
<rect x="637" y="786" width="1" height="27" fill="#808080"/><rect x="635" y="786" width="5" height="2" fill="#00ff00"/>
<rect x="641" y="786" width="1" height="22" fill="#808080"/><rect x="639" y="786" width="5" height="11" fill="#00ff00"/>
<rect x="646" y="708" width="1" height="85" fill="#808080"/><rect x="644" y="730" width="5" height="62" fill="#00ff00"/>
<rect x="651" y="725" width="1" height="22" fill="#808080"/><rect x="649" y="727" width="5" height="6" fill="#ff0000"/>
<rect x="656" y="729" width="1" height="29" fill="#808080"/><rect x="654" y="732" width="5" height="4" fill="#ff0000"/>
<rect x="661" y="687" width="1" height="60" fill="#808080"/><rect x="659" y="690" width="5" height="45" fill="#00ff00"/>
<rect x="665" y="675" width="1" height="22" fill="#808080"/><rect x="663" y="675" width="5" height="16" fill="#00ff00"/>
<rect x="670" y="675" width="1" height="22" fill="#808080"/><rect x="668" y="675" width="5" height="2" fill="#00ff00"/>
<rect x="675" y="655" width="1" height="50" fill="#808080"/><rect x="673" y="679" width="5" height="14" fill="#ff0000"/>
<rect x="680" y="682" width="1" height="20" fill="#808080"/><rect x="678" y="690" width="5" height="8" fill="#ff0000"/>
<rect x="684" y="694" width="1" height="17" fill="#808080"/><rect x="682" y="699" width="5" height="7" fill="#ff0000"/>
<rect x="689" y="699" width="1" height="65" fill="#808080"/><rect x="687" y="705" width="5" height="43" fill="#ff0000"/>
<rect x="694" y="744" width="1" height="41" fill="#808080"/><rect x="692" y="745" width="5" height="22" fill="#ff0000"/>
<rect x="699" y="699" width="1" height="83" fill="#808080"/><rect x="697" y="709" width="5" height="53" fill="#00ff00"/>
<rect x="704" y="703" width="1" height="63" fill="#808080"/><rect x="702" y="707" width="5" height="52" fill="#ff0000"/>
<rect x="708" y="753" width="1" height="24" fill="#808080"/><rect x="706" y="756" width="5" height="3" fill="#00ff00"/>
<rect x="713" y="750" width="1" height="39" fill="#808080"/><rect x="711" y="756" width="5" height="28" fill="#ff0000"/>
<rect x="718" y="777" width="1" height="59" fill="#808080"/><rect x="716" y="783" width="5" height="46" fill="#ff0000"/>
<rect x="723" y="812" width="1" height="61" fill="#808080"/><rect x="721" y="828" width="5" height="43" fill="#ff0000"/>
<rect x="728" y="840" width="1" height="36" fill="#808080"/><rect x="726" y="842" width="5" height="29" fill="#00ff00"/>
<rect x="732" y="838" width="1" height="26" fill="#808080"/><rect x="730" y="838" width="5" height="2" fill="#00ff00"/>
<rect x="737" y="826" width="1" height="25" fill="#808080"/><rect x="735" y="829" width="5" height="12" fill="#00ff00"/>
<rect x="742" y="814" width="1" height="23" fill="#808080"/><rect x="740" y="822" width="5" height="9" fill="#ff0000"/>
<rect x="747" y="818" width="1" height="33" fill="#808080"/><rect x="745" y="833" width="5" height="6" fill="#00ff00"/>
<rect x="752" y="831" width="1" height="25" fill="#808080"/><rect x="750" y="834" width="5" height="4" fill="#ff0000"/>
<rect x="756" y="826" width="1" height="20" fill="#808080"/><rect x="754" y="836" width="5" height="3" fill="#ff0000"/>
<rect x="761" y="805" width="1" height="55" fill="#808080"/><rect x="759" y="837" width="5" height="23" fill="#ff0000"/>
<rect x="766" y="853" width="1" height="57" fill="#808080"/><rect x="764" y="859" width="5" height="51" fill="#ff0000"/>
<rect x="771" y="887" width="1" height="134" fill="#808080"/><rect x="769" y="901" width="5" height="56" fill="#ff0000"/>
<rect x="776" y="912" width="1" height="68" fill="#808080"/><rect x="774" y="944" width="5" height="20" fill="#00ff00"/>
<rect x="780" y="925" width="1" height="34" fill="#808080"/><rect x="778" y="929" width="5" height="15" fill="#00ff00"/>
<rect x="785" y="867" width="1" height="94" fill="#808080"/><rect x="783" y="929" width="5" height="11" fill="#ff0000"/>
<rect x="790" y="903" width="1" height="44" fill="#808080"/><rect x="788" y="920" width="5" height="15" fill="#00ff00"/>
<rect x="795" y="870" width="1" height="54" fill="#808080"/><rect x="793" y="905" width="5" height="13" fill="#00ff00"/>
<rect x="799" y="889" width="1" height="46" fill="#808080"/><rect x="797" y="901" width="5" height="30" fill="#ff0000"/>
<rect x="804" y="898" width="1" height="38" fill="#808080"/><rect x="802" y="925" width="5" height="2" fill="#ff0000"/>
<rect x="809" y="893" width="1" height="36" fill="#808080"/><rect x="807" y="904" width="5" height="16" fill="#00ff00"/>
<rect x="814" y="883" width="1" height="33" fill="#808080"/><rect x="812" y="894" width="5" height="11" fill="#00ff00"/>
<rect x="819" y="779" width="1" height="123" fill="#808080"/><rect x="817" y="803" width="5" height="92" fill="#00ff00"/>
<rect x="823" y="720" width="1" height="103" fill="#808080"/><rect x="821" y="797" width="5" height="11" fill="#ff0000"/>
<rect x="828" y="770" width="1" height="64" fill="#808080"/><rect x="826" y="803" width="5" height="2" fill="#00ff00"/>
<rect x="833" y="708" width="1" height="93" fill="#808080"/><rect x="831" y="749" width="5" height="52" fill="#00ff00"/>
<rect x="838" y="707" width="1" height="79" fill="#808080"/><rect x="836" y="714" width="5" height="33" fill="#00ff00"/>
<rect x="843" y="699" width="1" height="52" fill="#808080"/><rect x="841" y="713" width="5" height="10" fill="#ff0000"/>
<rect x="847" y="710" width="1" height="56" fill="#808080"/><rect x="845" y="720" width="5" height="23" fill="#ff0000"/>
<rect x="852" y="703" width="1" height="56" fill="#808080"/><rect x="850" y="704" width="5" height="40" fill="#00ff00"/>
<rect x="857" y="656" width="1" height="59" fill="#808080"/><rect x="855" y="676" width="5" height="28" fill="#00ff00"/>
<rect x="862" y="591" width="1" height="98" fill="#808080"/><rect x="860" y="641" width="5" height="33" fill="#00ff00"/>
<rect x="867" y="591" width="1" height="56" fill="#808080"/><rect x="865" y="637" width="5" height="2" fill="#ff0000"/>
<rect x="871" y="566" width="1" height="90" fill="#808080"/><rect x="869" y="576" width="5" height="58" fill="#00ff00"/>
<rect x="876" y="529" width="1" height="84" fill="#808080"/><rect x="874" y="574" width="5" height="21" fill="#ff0000"/>
<rect x="881" y="594" width="1" height="36" fill="#808080"/><rect x="879" y="595" width="5" height="23" fill="#ff0000"/>
<rect x="886" y="586" width="1" height="52" fill="#808080"/><rect x="884" y="601" width="5" height="18" fill="#00ff00"/>
<rect x="890" y="591" width="1" height="44" fill="#808080"/><rect x="888" y="604" width="5" height="8" fill="#ff0000"/>
<rect x="895" y="549" width="1" height="70" fill="#808080"/><rect x="893" y="566" width="5" height="46" fill="#00ff00"/>
<rect x="900" y="507" width="1" height="72" fill="#808080"/><rect x="898" y="551" width="5" height="14" fill="#00ff00"/>
<rect x="905" y="503" width="1" height="65" fill="#808080"/><rect x="903" y="532" width="5" height="23" fill="#00ff00"/>
<rect x="910" y="487" width="1" height="51" fill="#808080"/><rect x="908" y="520" width="5" height="13" fill="#00ff00"/>
<rect x="914" y="519" width="1" height="52" fill="#808080"/><rect x="912" y="520" width="5" height="22" fill="#ff0000"/>
<rect x="919" y="395" width="1" height="153" fill="#808080"/><rect x="917" y="401" width="5" height="134" fill="#00ff00"/>
<rect x="924" y="364" width="1" height="75" fill="#808080"/><rect x="922" y="385" width="5" height="16" fill="#00ff00"/>
<rect x="929" y="367" width="1" height="88" fill="#808080"/><rect x="927" y="385" width="5" height="53" fill="#ff0000"/>
<rect x="934" y="391" width="1" height="100" fill="#808080"/><rect x="932" y="413" width="5" height="24" fill="#00ff00"/>
</g>
<polyline fill="none" stroke="#0000ff" stroke-width="1.1" points="938.8,475.7 967.4,314.2 1000.8,371.3 1049,229.4 1072.8,294.3 1087.4,266.5 1130.7,362.2 1159.4,282.3 1168.7,308 1231,152.5 1274.2,183.5 1308.7,95.2"/>
<g class="ax">
<text x="1343.5" y="16.0">88,00</text><text x="1343.5" y="30.1">84,00</text><text x="1343.5" y="44.8">80,00</text><text x="1343.5" y="60.3">76,00</text><text x="1343.5" y="76.6">72,00</text><text x="1343.5" y="93.9">68,00</text><text x="1343.5" y="112.2">64,00</text><text x="1343.5" y="131.7">60,00</text><text x="1343.5" y="152.6">56,00</text><text x="1343.5" y="175.0">52,00</text><text x="1343.5" y="199.2">48,00</text><text x="1343.5" y="225.4">44,00</text><text x="1343.5" y="254.2">40,00</text><text x="1343.5" y="286.1">36,00</text><text x="1343.5" y="321.7">32,00</text><text x="1343.5" y="362.0">28,00</text><text x="1343.5" y="408.6">24,00</text><text x="1343.5" y="531.1">16,00</text><text x="1343.5" y="618.1">12,00</text><text x="1343.5" y="740.6">8,00</text><text x="1343.5" y="950.0">4,00</text>
</g>
<rect x="1340" y="401" width="46" height="23.7" fill="#00ff00"/><text x="1346.5" y="419" font-size="16" fill="#000">23,14</text>
<rect x="1340" y="443" width="46" height="23.7" fill="#b4b4b4"/><text x="1346.5" y="461" font-size="16" fill="#000">20,16</text>
<g class="yr">
<text x="129.2" y="1129">2009</text><text x="186.2" y="1129">2010</text><text x="244.2" y="1129">2011</text><text x="301.2" y="1129">2012</text><text x="359.2" y="1129">2013</text><text x="416.2" y="1129">2014</text><text x="474.2" y="1129">2015</text><text x="531.2" y="1129">2016</text><text x="589.2" y="1129">2017</text><text x="646.2" y="1129">2018</text><text x="704.2" y="1129">2019</text><text x="761.2" y="1129">2020</text><text x="819.2" y="1129">2021</text><text x="876.2" y="1129">2022</text><text x="934.2" y="1129">2023</text>
</g>
<rect x="1031" y="1114" width="83.8" height="14" fill="#b4b4b4"/><text x="1033" y="1129" font-size="16" fill="#000">01.06.2025</text>
<text x="-4.5" y="1127.6" font-size="19" font-weight="bold" fill="#000">Dyn</text>
<g fill="none" stroke="#5c6480" stroke-width="1.6"><path d="M39.6 1120 v-3.6 a6 6 0 0 1 12 0 v3.6"/><path d="M42.6 1120 v-3.4 a3 3 0 0 1 6 0 v3.4"/><rect x="37" y="1120" width="17.2" height="12" rx="1.5"/><circle cx="45.6" cy="1124.6" r="1.3"/><path d="M45.6 1126 v3"/></g>
<text x="-0.8" y="1103.6" font-size="14" fill="#555555" textLength="100.2" lengthAdjust="spacing">© eSignal, 2023</text>
<text x="0.5" y="18.6" font-size="16" fill="#000" textLength="468" lengthAdjust="spacing">* RELL, RICHARDSON ELECTRONICS, M, 01:10-22:00 (Dynamic)</text>
<text class="nt" x="1221.5" y="74">ca.70</text><text class="nt" x="973.5" y="488.2">17-20</text>
<defs><clipPath id="c1K"><polygon points="-14.28,-32.13 14.28,-32.13 14.28,-6.07 4.03,-6.07 4.03,1.79 -2.25,1.79 -2.25,-6.07 -14.28,-6.07"/></clipPath><clipPath id="c1G"><polygon points="-12.24,-27.54 12.24,-27.54 12.24,-5.20 3.46,-5.20 3.46,1.53 -1.93,1.53 -1.93,-5.20 -12.24,-5.20"/></clipPath><clipPath id="c1B"><polygon points="-10.61,-23.87 10.61,-23.87 10.61,-4.51 3.00,-4.51 3.00,1.33 -1.67,1.33 -1.67,-4.51 -10.61,-4.51"/></clipPath><clipPath id="c1M"><polygon points="-8.98,-20.20 8.98,-20.20 8.98,-3.81 2.54,-3.81 2.54,1.12 -1.41,1.12 -1.41,-3.81 -8.98,-3.81"/></clipPath></defs>
<g class="wl">
<text clip-path="url(#c1K)" transform="translate(279.0,492.0) scale(1.272,1)" font-size="35.70" fill="#000000" stroke="#000000" stroke-width="1.40">1</text>
<text transform="translate(280.5,527.0) scale(1.200,1)" font-size="30.60" fill="#999999" stroke="#999999" stroke-width="1.20">5</text>
<text transform="translate(195.8,591.3) scale(1.200,1)" font-size="30.60" fill="#999999" stroke="#999999" stroke-width="1.20">3</text>
<text transform="translate(333.0,582.5) scale(1.200,1)" font-size="22.44" fill="#ff00ff" stroke="#ff00ff" stroke-width="0.88">b</text>
<text transform="translate(362.4,593.3) scale(1.200,1)" font-size="22.44" fill="#ff00ff" stroke="#ff00ff" stroke-width="0.88">a</text>
<text transform="translate(418.5,575.8) scale(1.200,1)" font-size="26.52" fill="#0000ff" stroke="#0000ff" stroke-width="1.04">b</text>
<text transform="translate(415.6,595.2) scale(1.200,1)" font-size="22.44" fill="#ff00ff" stroke="#ff00ff" stroke-width="0.88">c</text>
<text transform="translate(453.9,635.6) scale(1.200,1)" font-size="22.44" fill="#ff00ff" stroke="#ff00ff" stroke-width="0.88">2</text>
<text transform="translate(314.2,657.4) scale(1.200,1)" font-size="22.44" fill="#ff00ff" stroke="#ff00ff" stroke-width="0.88">a</text>
<text transform="translate(349.8,667.9) scale(1.200,1)" font-size="22.44" fill="#ff00ff" stroke="#ff00ff" stroke-width="0.88">c</text>
<text transform="translate(379.7,664.1) scale(1.200,1)" font-size="22.44" fill="#ff00ff" stroke="#ff00ff" stroke-width="0.88">b</text>
<text transform="translate(348.0,690.5) scale(1.200,1)" font-size="26.52" fill="#0000ff" stroke="#0000ff" stroke-width="1.04">a</text>
<text clip-path="url(#c1M)" transform="translate(431.0,693.1) scale(1.272,1)" font-size="22.44" fill="#ff00ff" stroke="#ff00ff" stroke-width="0.88">1</text>
<text transform="translate(674.3,592.8) scale(1.200,1)" font-size="30.60" fill="#999999" stroke="#999999" stroke-width="1.20">b</text>
<text transform="translate(675.3,622.2) scale(1.200,1)" font-size="26.52" fill="#0000ff" stroke="#0000ff" stroke-width="1.04">c</text>
<text transform="translate(677.2,648.2) scale(1.200,1)" font-size="22.44" fill="#ff00ff" stroke="#ff00ff" stroke-width="0.88">5</text>
<text transform="translate(705.7,689.8) scale(1.200,1)" font-size="26.52" fill="#0000ff" stroke="#0000ff" stroke-width="1.04">2</text>
<text transform="translate(643.5,702.4) scale(1.200,1)" font-size="22.44" fill="#ff00ff" stroke="#ff00ff" stroke-width="0.88">3</text>
<text transform="translate(569.1,730.4) scale(1.200,1)" font-size="26.52" fill="#0000ff" stroke="#0000ff" stroke-width="1.04">a</text>
<text transform="translate(568.8,754.3) scale(1.200,1)" font-size="22.44" fill="#ff00ff" stroke="#ff00ff" stroke-width="0.88">c</text>
<text clip-path="url(#c1M)" transform="translate(626.8,770.2) scale(1.272,1)" font-size="22.44" fill="#ff00ff" stroke="#ff00ff" stroke-width="0.88">1</text>
<text transform="translate(663.2,776.1) scale(1.200,1)" font-size="22.44" fill="#ff00ff" stroke="#ff00ff" stroke-width="0.88">4</text>
<text transform="translate(526.9,793.2) scale(1.200,1)" font-size="22.44" fill="#ff00ff" stroke="#ff00ff" stroke-width="0.88">4</text>
<text transform="translate(604.7,797.1) scale(1.200,1)" font-size="22.44" fill="#ff00ff" stroke="#ff00ff" stroke-width="0.88">b</text>
<text transform="translate(542.4,831.2) scale(1.200,1)" font-size="22.44" fill="#ff00ff" stroke="#ff00ff" stroke-width="0.88">a</text>
<text transform="translate(508.5,871.7) scale(1.200,1)" font-size="22.44" fill="#ff00ff" stroke="#ff00ff" stroke-width="0.88">3</text>
<text transform="translate(556.8,894.1) scale(1.200,1)" font-size="22.44" fill="#ff00ff" stroke="#ff00ff" stroke-width="0.88">b</text>
<text transform="translate(533.2,914.5) scale(1.200,1)" font-size="22.44" fill="#ff00ff" stroke="#ff00ff" stroke-width="0.88">5</text>
<text transform="translate(531.5,940.2) scale(1.200,1)" font-size="26.52" fill="#0000ff" stroke="#0000ff" stroke-width="1.04">c</text>
<text transform="translate(531.0,969.4) scale(1.200,1)" font-size="30.60" fill="#999999" stroke="#999999" stroke-width="1.20">a</text>
<text transform="translate(576.2,860.9) scale(1.200,1)" font-size="22.44" fill="#ff00ff" stroke="#ff00ff" stroke-width="0.88">a</text>
<text transform="translate(644.0,827.9) scale(1.200,1)" font-size="22.44" fill="#ff00ff" stroke="#ff00ff" stroke-width="0.88">2</text>
<text transform="translate(624.7,870.1) scale(1.200,1)" font-size="22.44" fill="#ff00ff" stroke="#ff00ff" stroke-width="0.88">c</text>
<text transform="translate(626.8,898.8) scale(1.200,1)" font-size="26.52" fill="#0000ff" stroke="#0000ff" stroke-width="1.04">b</text>
<text clip-path="url(#c1B)" transform="translate(695.6,806.5) scale(1.272,1)" font-size="26.52" fill="#0000ff" stroke="#0000ff" stroke-width="1.04">1</text>
<text transform="translate(763.8,800.5) scale(1.200,1)" font-size="26.52" fill="#0000ff" stroke="#0000ff" stroke-width="1.04">4</text>
<text transform="translate(727.0,900.4) scale(1.200,1)" font-size="26.52" fill="#0000ff" stroke="#0000ff" stroke-width="1.04">3</text>
<text clip-path="url(#c1G)" transform="translate(783.5,861.1) scale(1.272,1)" font-size="30.60" fill="#999999" stroke="#999999" stroke-width="1.20">1</text>
<text transform="translate(800.7,979.0) scale(1.200,1)" font-size="30.60" fill="#999999" stroke="#999999" stroke-width="1.20">2</text>
<text transform="translate(223.5,770.8) scale(1.200,1)" font-size="30.60" fill="#999999" stroke="#999999" stroke-width="1.20">4</text>
<text clip-path="url(#c1G)" transform="translate(141.8,913.6) scale(1.272,1)" font-size="30.60" fill="#999999" stroke="#999999" stroke-width="1.20">1</text>
<text transform="translate(155.4,1080.8) scale(1.200,1)" font-size="30.60" fill="#999999" stroke="#999999" stroke-width="1.20">2</text>
<text transform="translate(770.5,1046.8) scale(1.200,1)" font-size="26.52" fill="#0000ff" stroke="#0000ff" stroke-width="1.04">5</text>
<text transform="translate(770.2,1072.4) scale(1.200,1)" font-size="30.60" fill="#999999" stroke="#999999" stroke-width="1.20">c</text>
<text transform="translate(773.1,1105.4) scale(1.200,1)" font-size="35.70" fill="#000000" stroke="#000000" stroke-width="1.40">2</text>
<text transform="translate(1050.8,212.2) scale(1.200,1)" font-size="30.60" fill="#999999" stroke="#999999" stroke-width="1.20">3</text>
<text transform="translate(1091.3,258.4) scale(1.200,1)" font-size="26.52" fill="#0000ff" stroke="#0000ff" stroke-width="1.04">b</text>
<text transform="translate(1069.7,319.4) scale(1.200,1)" font-size="26.52" fill="#0000ff" stroke="#0000ff" stroke-width="1.04">a</text>
<text clip-path="url(#c1B)" transform="translate(1161.5,269.4) scale(1.272,1)" font-size="26.52" fill="#0000ff" stroke="#0000ff" stroke-width="1.04">1</text>
<text transform="translate(1172.6,337.6) scale(1.200,1)" font-size="26.52" fill="#0000ff" stroke="#0000ff" stroke-width="1.04">2</text>
<text transform="translate(1129.4,387.9) scale(1.200,1)" font-size="26.52" fill="#0000ff" stroke="#0000ff" stroke-width="1.04">c</text>
<text transform="translate(1128.6,418.6) scale(1.200,1)" font-size="30.60" fill="#999999" stroke="#999999" stroke-width="1.20">4</text>
<text transform="translate(1236.0,143.6) scale(1.200,1)" font-size="26.52" fill="#0000ff" stroke="#0000ff" stroke-width="1.04">3</text>
<text transform="translate(1272.2,214.6) scale(1.200,1)" font-size="26.52" fill="#0000ff" stroke="#0000ff" stroke-width="1.04">4</text>
<text transform="translate(1310.4,82.0) scale(1.200,1)" font-size="26.52" fill="#0000ff" stroke="#0000ff" stroke-width="1.04">5</text>
<text transform="translate(1311.4,56.6) scale(1.200,1)" font-size="30.60" fill="#999999" stroke="#999999" stroke-width="1.20">5</text>
<text transform="translate(1309.2,27.0) scale(1.200,1)" font-size="35.70" fill="#000000" stroke="#000000" stroke-width="1.40">3</text>
</g>
</svg>
</body></html>
